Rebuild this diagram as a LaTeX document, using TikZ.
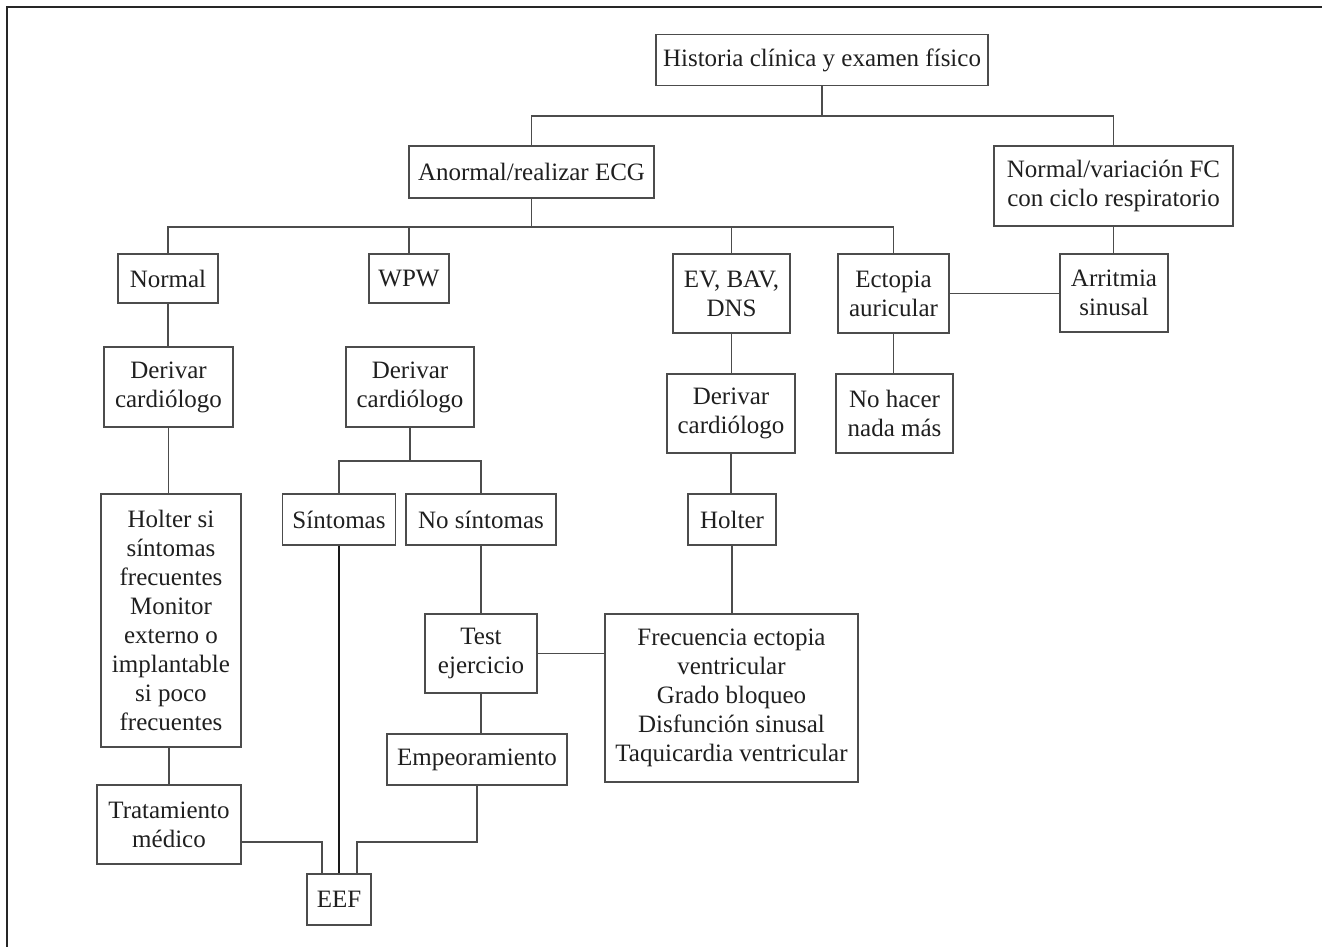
\documentclass[tikz,border=0pt]{standalone}
\usepackage{fontspec}
\setmainfont{Liberation Serif}
\begin{document}
\begin{tikzpicture}[x=0.5pt,y=-0.5pt,
  bx/.style 2 args={draw=black!70, line width=0.7pt, minimum width=#1*0.5pt, minimum height=#2*0.5pt, inner sep=0pt, align=center, text=black!88, font=\fontsize{12.5}{14.5}\selectfont},
  conn/.style={draw=black!70, line width=0.7pt},
  frame/.style={draw=black!85, line width=1pt}]
\useasboundingbox (0,0) rectangle (1322,947);
\draw[frame] (7,947) -- (7,7) -- (1322,7);

\node[bx={332}{51}] (hist) at (822,60) {Historia clínica y examen físico};
\node[bx={245}{52}] (anorm) at (531.5,172) {Anormal/realizar ECG};
\node[bx={239}{80}] (normvar) at (1113.5,186) {Normal/variación FC\\con ciclo respiratorio};
\node[bx={100}{49}] (normal) at (168,278.5) {Normal};
\node[bx={80}{49}] (wpw) at (409,278.5) {WPW};
\node[bx={117}{79}] (ev) at (731.5,293.5) {EV, BAV,\\DNS};
\node[bx={111}{79}] (ecto) at (893.5,293.5) {Ectopia\\auricular};
\node[bx={108}{78}] (arrit) at (1114,293) {Arritmia\\sinusal};
\node[bx={129}{80}] (der1) at (168.5,387) {Derivar\\cardiólogo};
\node[bx={128}{80}] (der2) at (410,387) {Derivar\\cardiólogo};
\node[bx={128}{79}] (der3) at (731,413.5) {Derivar\\cardiólogo};
\node[bx={117}{79}] (noh) at (894.5,413.5) {No hacer\\nada más};
\node[bx={140}{253}] (holt1) at (171,620.5) {Holter si\\síntomas\\frecuentes\\Monitor\\externo o\\implantable\\si poco\\frecuentes};
\node[bx={113}{51}] (sint) at (339,519.5) {Síntomas};
\node[bx={150}{51}] (nosint) at (481,519.5) {No síntomas};
\node[bx={88}{51}] (holt3) at (732,519.5) {Holter};
\node[bx={112}{79}] (test) at (481,653.5) {Test\\ejercicio};
\node[bx={180}{51}] (emp) at (477,759.5) {Empeoramiento};
\node[bx={253}{168}] (frec) at (731.5,698) {Frecuencia ectopia\\ventricular\\Grado bloqueo\\Disfunción sinusal\\Taquicardia ventricular};
\node[bx={144}{79}] (trat) at (169,824.5) {Tratamiento\\médico};
\node[bx={64}{51}] (eef) at (339,899.5) {EEF};

\coordinate (j1) at (822,116);
\coordinate (j2) at (531.5,227);
\coordinate (j3) at (410,461);
\coordinate (e1) at (357,842);
\coordinate (e2) at (322,842);

\draw[conn] (hist.south) -- (j1);
\draw[conn] (anorm.north) |- (j1) -| (normvar.north);
\draw[conn] (anorm.south) -- (j2);
\draw[conn] (normal.north) |- (j2) -| (ecto.north);
\draw[conn] (wpw.north) -- (wpw.north |- j2);
\draw[conn] (ev.north) -- (ev.north |- j2);
\draw[conn] (normvar.south) -- (normvar.south |- arrit.north);
\draw[conn] (ecto.east) -- (ecto.east -| arrit.west);
\draw[conn] (normal.south) -- (normal.south |- der1.north);
\draw[conn] (der1.south) -- (der1.south |- holt1.north);
\draw[conn] (trat.north) -- (trat.north |- holt1.south);
\draw[conn] (der2.south) -- (j3);
\draw[conn] (sint.north) |- (j3) -| (nosint.north);
\draw[conn, draw=black!90] (sint.south) -- (eef.north);
\draw[conn] (nosint.south) -- (test.north);
\draw[conn] (test.south) -- (test.south |- emp.north);
\draw[conn] (emp.south) |- (e1) -- (e1 |- eef.north);
\draw[conn] (trat.east |- e2) -- (e2) -- (e2 |- eef.north);
\draw[conn] (test.east) -- (test.east -| frec.west);
\draw[conn] (ev.south) -- (ev.south |- der3.north);
\draw[conn] (der3.south) -- (der3.south |- holt3.north);
\draw[conn] (holt3.south) -- (holt3.south |- frec.north);
\draw[conn] (ecto.south) -- (ecto.south |- noh.north);
\end{tikzpicture}
\end{document}
